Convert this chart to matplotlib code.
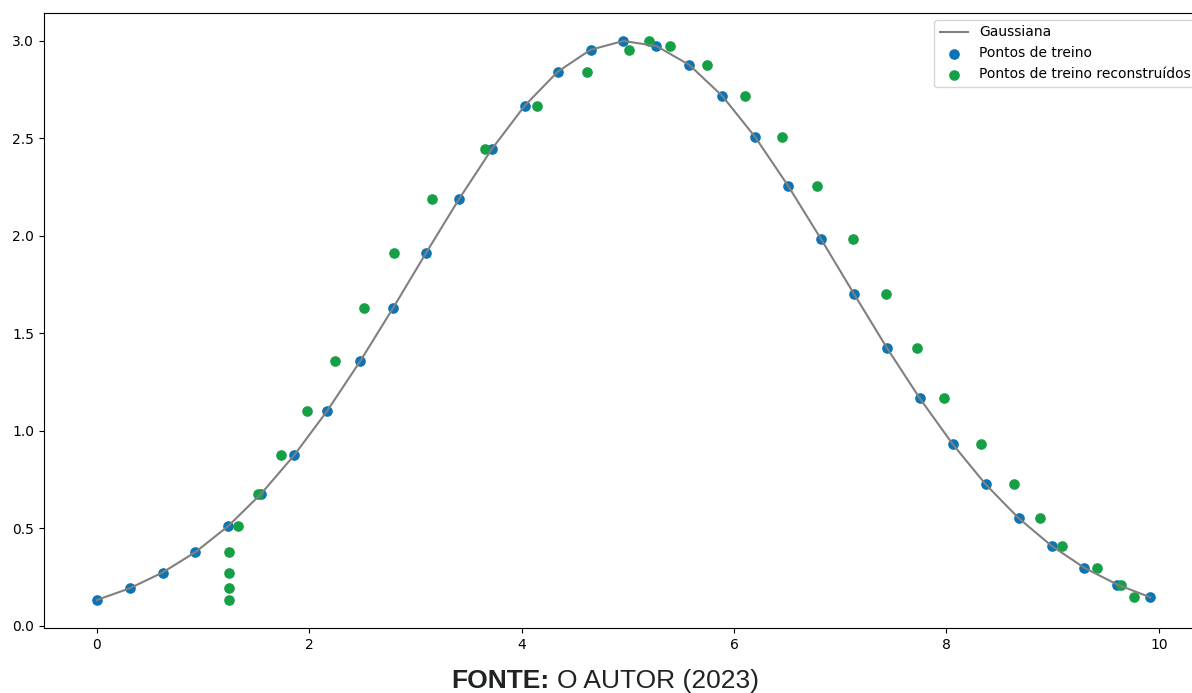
import matplotlib.pyplot as plt

# training points (x) and the gaussian values
x_treino = [0.00, 0.31, 0.62, 0.93, 1.24, 1.55, 1.86, 2.17, 2.48, 2.79, 3.10,
            3.41, 3.72, 4.03, 4.34, 4.65, 4.96, 5.27, 5.58, 5.89, 6.20, 6.51,
            6.82, 7.13, 7.44, 7.75, 8.06, 8.37, 8.68, 8.99, 9.30, 9.61, 9.92]
y_treino = [0.132, 0.192, 0.273, 0.378, 0.512, 0.678, 0.875, 1.102, 1.356,
            1.629, 1.911, 2.187, 2.444, 2.667, 2.841, 2.954, 2.999, 2.973,
            2.876, 2.717, 2.506, 2.256, 1.983, 1.702, 1.425, 1.166, 0.931,
            0.725, 0.552, 0.410, 0.297, 0.211, 0.146]

# reconstructed points: same heights, shifted x positions
x_recon = [1.25, 1.25, 1.25, 1.25, 1.33, 1.52, 1.74, 1.98, 2.24, 2.52, 2.80,
           3.16, 3.66, 4.15, 4.62, 5.01, 5.20, 5.40, 5.75, 6.10, 6.45, 6.78,
           7.12, 7.43, 7.72, 7.98, 8.33, 8.64, 8.88, 9.09, 9.42, 9.64, 9.77]
y_recon = y_treino

BLUE = "#0a74b6"
GREEN = "#16a046"

fig = plt.figure(figsize=(11.92, 6.93), dpi=100)
ax = fig.add_axes([44 / 1192, 1 - 628 / 693, 1159 / 1192, 615 / 693])

ax.plot(x_treino, y_treino, color="gray", linewidth=1.5, label="Gaussiana", zorder=3)
ax.scatter(x_treino, y_treino, s=44, color=BLUE, label="Pontos de treino", zorder=2)
ax.scatter(x_recon, y_recon, s=44, color=GREEN, label="Pontos de treino reconstruídos", zorder=2.5)

ax.spines["right"].set_visible(False)
ax.legend(loc="upper right", fontsize=10)

fig.text(549 / 1192, 5 / 693, "FONTE:", family="Liberation Sans", fontweight="bold",
         fontsize=19, ha="right", va="baseline", color="#222222")
fig.text(557 / 1192, 5 / 693, "O AUTOR (2023)", family="Liberation Sans",
         fontsize=19, ha="left", va="baseline", color="#222222")

fig.savefig("out.png", dpi=100)
plt.close(fig)
